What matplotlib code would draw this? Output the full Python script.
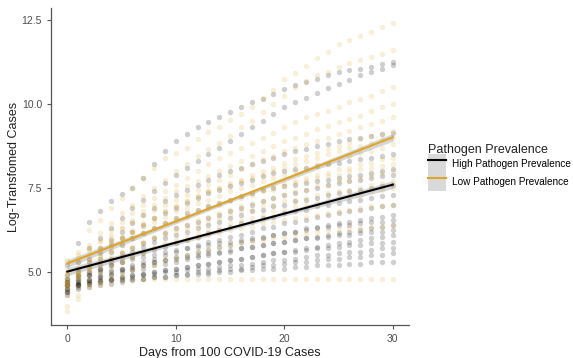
import numpy as np
import matplotlib
matplotlib.use("Agg")
import matplotlib.pyplot as plt
from matplotlib.lines import Line2D
from matplotlib.patches import Patch

plt.rcParams['font.family'] = ['Liberation Sans', 'DejaVu Sans']

# days since the 100th case
days = list(range(31))

# log-transformed cases per country, high pathogen prevalence group
high_a = [5.2, 5.86, 6.5, 6.82, 7.1, 7.32, 7.5, 7.8, 8.2, 8.6, 8.9, 9.1, 9.3, 9.45, 9.6, 9.75, 9.9, 10.05, 10.15, 10.3, 10.45, 10.55, 10.65, 10.75, 10.85, 10.95, 11.0, 11.05, 11.1, 11.2, 11.25]
high_b = [4.9, 5.3, 5.7, 6.0, 6.3, 6.6, 6.9, 7.15, 7.4, 7.65, 7.9, 8.1, 8.3, 8.5, 8.7, 8.9, 9.1, 9.3, 9.5, 9.7, 9.9, 10.06, 10.18, 10.32, 10.47, 10.6, 10.72, 10.85, 10.95, 11.05, 11.16]
high_c = [4.8, 5.1, 5.4, 5.7, 5.95, 6.2, 6.45, 6.7, 6.9, 7.1, 7.3, 7.45, 7.6, 7.75, 7.9, 8.0, 8.1, 8.2, 8.3, 8.4, 8.5, 8.6, 8.65, 8.75, 8.8, 8.9, 8.95, 9.0, 9.05, 9.1, 9.15]
high_d = [4.7, 5.0, 5.3, 5.55, 5.8, 6.0, 6.2, 6.4, 6.6, 6.75, 6.9, 7.05, 7.2, 7.35, 7.45, 7.55, 7.65, 7.75, 7.85, 7.95, 8.0, 8.05, 8.1, 8.15, 8.2, 8.25, 8.3, 8.35, 8.4, 8.45, 8.5]
high_e = [4.6, 4.9, 5.15, 5.4, 5.6, 5.8, 6.0, 6.15, 6.3, 6.45, 6.6, 6.75, 6.85, 6.95, 7.05, 7.15, 7.25, 7.35, 7.45, 7.5, 7.55, 7.6, 7.65, 7.7, 7.75, 7.8, 7.85, 7.9, 7.95, 8.0, 8.05]
high_f = [4.7, 4.85, 5.0, 5.2, 5.4, 5.55, 5.7, 5.85, 6.0, 6.15, 6.3, 6.4, 6.5, 6.6, 6.7, 6.8, 6.9, 7.0, 7.1, 7.2, 7.3, 7.35, 7.45, 7.5, 7.6, 7.65, 7.7, 7.75, 7.8, 7.85, 7.9]
high_g = [4.5, 4.7, 4.9, 5.1, 5.3, 5.45, 5.6, 5.75, 5.9, 6.0, 6.1, 6.2, 6.3, 6.4, 6.5, 6.6, 6.7, 6.8, 6.85, 6.95, 7.0, 7.1, 7.15, 7.2, 7.3, 7.35, 7.4, 7.45, 7.5, 7.55, 7.6]
high_h = [4.6, 4.75, 4.9, 5.05, 5.2, 5.3, 5.45, 5.55, 5.65, 5.75, 5.85, 5.95, 6.05, 6.15, 6.25, 6.35, 6.45, 6.5, 6.6, 6.65, 6.75, 6.8, 6.85, 6.95, 7.0, 7.05, 7.1, 7.15, 7.2, 7.25, 7.3]
high_i = [4.4, 4.6, 4.75, 4.9, 5.0, 5.1, 5.2, 5.3, 5.4, 5.5, 5.6, 5.7, 5.8, 5.9, 5.95, 6.05, 6.1, 6.2, 6.3, 6.35, 6.45, 6.5, 6.55, 6.65, 6.7, 6.75, 6.8, 6.85, 6.9, 6.95, 7.0]
high_j = [4.5, 4.65, 4.75, 4.85, 4.95, 5.05, 5.1, 5.2, 5.3, 5.35, 5.45, 5.5, 5.6, 5.65, 5.75, 5.8, 5.9, 5.95, 6.0, 6.1, 6.15, 6.2, 6.3, 6.35, 6.4, 6.45, 6.5, 6.55, 6.6, 6.65, 6.7]
high_k = [4.6, 4.7, 4.75, 4.85, 4.9, 5.0, 5.05, 5.1, 5.2, 5.25, 5.3, 5.4, 5.45, 5.5, 5.55, 5.6, 5.7, 5.75, 5.8, 5.85, 5.9, 5.95, 6.0, 6.05, 6.1, 6.15, 6.2, 6.25, 6.3, 6.35, 6.4]
high_l = [4.4, 4.6, 4.7, 4.75, 4.8, 4.85, 4.9, 4.95, 5.0, 5.05, 5.1, 5.15, 5.2, 5.25, 5.3, 5.35, 5.4, 5.45, 5.5, 5.55, 5.6, 5.65, 5.7, 5.75, 5.8, 5.85, 5.9, 5.95, 6.0, 6.05, 6.1]
high_m = [4.3, 4.55, 4.65, 4.7, 4.75, 4.8, 4.85, 4.9, 4.95, 5.0, 5.0, 5.05, 5.1, 5.1, 5.15, 5.2, 5.2, 5.25, 5.3, 5.35, 5.35, 5.4, 5.45, 5.5, 5.5, 5.55, 5.6, 5.6, 5.65, 5.7, 5.7]
high_n = [4.5, 4.6, 4.65, 4.7, 4.75, 4.75, 4.8, 4.8, 4.85, 4.85, 4.9, 4.9, 4.95, 4.95, 5.0, 5.0, 5.05, 5.05, 5.1, 5.1, 5.1, 5.15, 5.15, 5.2, 5.2, 5.2, 5.25, 5.25, 5.3, 5.3, 5.3]
high_o = [4.6, 4.65, 4.7, 4.75, 4.8, 4.85, 4.9, 4.95, 5.0, 5.05, 5.1, 5.15, 5.2, 5.25, 5.3, 5.35, 5.4, 5.45, 5.5, 5.55, 5.6, 5.6, 5.65, 5.7, 5.7, 5.75, 5.8, 5.8, 5.85, 5.85, 5.9]
high_p = [4.7, 4.8, 4.9, 5.0, 5.05, 5.1, 5.15, 5.2, 5.3, 5.35, 5.4, 5.45, 5.5, 5.55, 5.6, 5.65, 5.7, 5.75, 5.8, 5.85, 5.9, 5.95, 6.0, 6.0, 6.05, 6.1, 6.1, 6.15, 6.2, 6.2, 6.25]
high_q = [4.8, 4.9, 5.0, 5.1, 5.2, 5.3, 5.4, 5.45, 5.5, 5.6, 5.65, 5.7, 5.75, 5.8, 5.85, 5.9, 5.95, 6.0, 6.05, 6.1, 6.15, 6.2, 6.25, 6.3, 6.35, 6.4, 6.4, 6.45, 6.5, 6.5, 6.55]
high_r = [4.4, 4.5, 4.55, 4.6, 4.65, 4.7, 4.75, 4.8, 4.85, 4.85, 4.9, 4.95, 5.0, 5.0, 5.05, 5.1, 5.1, 5.15, 5.2, 5.2, 5.25, 5.3, 5.3, 5.35, 5.4, 5.4, 5.45, 5.45, 5.5, 5.5, 5.55]

# low pathogen prevalence group
low_a = [5.3, 5.6, 6.25, 6.55, 6.9, 7.2, 7.5, 7.8, 8.1, 8.39, 8.55, 8.69, 8.96, 9.17, 9.32, 9.52, 9.7, 9.9, 10.18, 10.42, 10.74, 10.92, 11.13, 11.37, 11.55, 11.79, 11.9, 12.02, 12.14, 12.29, 12.41]
low_b = [5.0, 5.4, 5.8, 6.15, 6.45, 6.75, 7.0, 7.25, 7.5, 7.75, 8.0, 8.2, 8.45, 8.65, 8.85, 9.05, 9.3, 9.5, 9.75, 10.0, 10.25, 10.5, 10.68, 10.85, 10.95, 11.1, 11.22, 11.3, 11.4, 11.5, 11.6]
low_c = [4.9, 5.3, 5.65, 5.95, 6.25, 6.5, 6.75, 7.0, 7.2, 7.4, 7.6, 7.8, 8.0, 8.2, 8.4, 8.55, 8.7, 8.85, 9.0, 9.15, 9.3, 9.45, 9.6, 9.7, 9.8, 9.9, 10.05, 10.15, 10.25, 10.4, 10.5]
low_d = [4.6, 5.0, 5.35, 5.7, 6.0, 6.3, 6.55, 6.8, 7.0, 7.2, 7.4, 7.55, 7.7, 7.85, 8.0, 8.15, 8.3, 8.45, 8.6, 8.75, 8.9, 9.0, 9.1, 9.25, 9.35, 9.45, 9.55, 9.65, 9.8, 9.9, 10.0]
low_e = [5.35, 5.5, 5.7, 5.9, 6.1, 6.3, 6.5, 6.7, 6.85, 7.0, 7.15, 7.3, 7.45, 7.6, 7.75, 7.9, 8.05, 8.2, 8.35, 8.45, 8.6, 8.7, 8.8, 8.9, 9.0, 9.1, 9.2, 9.3, 9.4, 9.5, 9.6]
low_f = [4.8, 5.1, 5.4, 5.6, 5.85, 6.05, 6.25, 6.45, 6.6, 6.8, 6.95, 7.1, 7.25, 7.4, 7.5, 7.65, 7.75, 7.9, 8.0, 8.1, 8.25, 8.35, 8.45, 8.55, 8.65, 8.75, 8.85, 8.95, 9.05, 9.1, 9.2]
low_g = [5.1, 5.3, 5.5, 5.7, 5.9, 6.05, 6.2, 6.35, 6.5, 6.65, 6.8, 6.9, 7.05, 7.15, 7.25, 7.4, 7.5, 7.6, 7.7, 7.8, 7.9, 8.0, 8.1, 8.2, 8.25, 8.35, 8.45, 8.55, 8.6, 8.7, 8.8]
low_h = [4.6, 4.9, 5.15, 5.4, 5.6, 5.8, 6.0, 6.15, 6.3, 6.45, 6.6, 6.7, 6.8, 6.95, 7.05, 7.15, 7.25, 7.35, 7.45, 7.55, 7.65, 7.7, 7.8, 7.9, 7.95, 8.05, 8.1, 8.2, 8.25, 8.35, 8.4]
low_i = [4.7, 4.9, 5.1, 5.3, 5.45, 5.6, 5.75, 5.9, 6.05, 6.2, 6.3, 6.4, 6.55, 6.65, 6.75, 6.85, 6.95, 7.05, 7.1, 7.2, 7.3, 7.4, 7.45, 7.55, 7.6, 7.7, 7.75, 7.8, 7.9, 7.95, 8.0]
low_j = [4.3, 4.55, 4.8, 5.0, 5.15, 5.3, 5.45, 5.6, 5.75, 5.85, 5.95, 6.05, 6.15, 6.25, 6.35, 6.45, 6.55, 6.6, 6.7, 6.8, 6.85, 6.95, 7.0, 7.05, 7.15, 7.2, 7.25, 7.3, 7.4, 7.45, 7.5]
low_k = [4.9, 5.0, 5.1, 5.2, 5.3, 5.4, 5.5, 5.6, 5.7, 5.8, 5.85, 5.95, 6.0, 6.1, 6.15, 6.25, 6.3, 6.35, 6.45, 6.5, 6.55, 6.6, 6.65, 6.7, 6.75, 6.8, 6.85, 6.9, 6.95, 6.95, 7.0]
low_l = [4.0, 4.3, 4.55, 4.7, 4.85, 4.95, 5.05, 5.15, 5.25, 5.35, 5.45, 5.5, 5.6, 5.65, 5.75, 5.8, 5.85, 5.9, 5.95, 6.0, 6.05, 6.1, 6.15, 6.2, 6.25, 6.25, 6.3, 6.3, 6.35, 6.35, 6.4]
low_m = [3.85, 4.2, 4.6, 4.65, 4.7, 4.75, 4.75, 4.8, 4.8, 4.8, 4.8, 4.8, 4.8, 4.8, 4.8, 4.8, 4.8, 4.8, 4.8, 4.8, 4.8, 4.8, 4.8, 4.8, 4.8, 4.8, 4.8, 4.8, 4.8, 4.8, 4.8]
low_n = [4.5, 4.85, 5.2, 5.5, 5.75, 6.0, 6.2, 6.4, 6.6, 6.8, 6.95, 7.1, 7.25, 7.4, 7.5, 7.6, 7.7, 7.8, 7.9, 8.0, 8.1, 8.2, 8.3, 8.4, 8.5, 8.6, 8.7, 8.75, 8.85, 8.95, 9.0]
low_o = [4.6, 4.8, 5.0, 5.2, 5.4, 5.55, 5.7, 5.85, 6.0, 6.1, 6.2, 6.3, 6.4, 6.5, 6.6, 6.7, 6.8, 6.85, 6.95, 7.0, 7.1, 7.15, 7.2, 7.3, 7.35, 7.4, 7.45, 7.5, 7.6, 7.65, 7.7]
low_p = [4.7, 5.0, 5.25, 5.45, 5.65, 5.85, 6.0, 6.15, 6.3, 6.45, 6.55, 6.65, 6.8, 6.9, 7.0, 7.1, 7.2, 7.3, 7.4, 7.45, 7.55, 7.65, 7.7, 7.8, 7.85, 7.9, 8.0, 8.05, 8.1, 8.15, 8.2]

high_countries = [high_a, high_b, high_c, high_d, high_e, high_f, high_g, high_h, high_i,
                  high_j, high_k, high_l, high_m, high_n, high_o, high_p, high_q, high_r]
low_countries = [low_a, low_b, low_c, low_d, low_e, low_f, low_g, low_h,
                 low_i, low_j, low_k, low_l, low_m, low_n, low_o, low_p]

group_names = ["High Pathogen Prevalence", "Low Pathogen Prevalence"]
group_colors = ["#000000", "#E0A526"]

# half-width of the confidence ribbon at mid-range
ribbon_half = 0.06


def lm_band(x, y, xs):
    # straight-line fit, ribbon shaped like the standard error of the fit
    n = len(x)
    slope, inter = np.polyfit(x, y, 1)
    sxx = np.sum((x - x.mean()) ** 2)
    shape = np.sqrt(1.0 / n + (xs - x.mean()) ** 2 / sxx)
    half = ribbon_half * shape / shape.min()
    fit = inter + slope * xs
    return fit, fit - half, fit + half


fig = plt.figure(figsize=(5.73, 3.58), dpi=100)
ax = fig.add_axes([0.089, 0.092, 0.625, 0.886])

xs = np.linspace(0, 30, 100)
groups = [high_countries, low_countries]
for countries, col in zip(groups, group_colors):
    x = np.tile(np.array(days, dtype=float), len(countries))
    y = np.concatenate([np.array(c, dtype=float) for c in countries])
    ax.scatter(x, y, s=15, color=col, alpha=0.19, linewidths=0, zorder=2)

for countries, col in zip(groups, group_colors):
    x = np.tile(np.array(days, dtype=float), len(countries))
    y = np.concatenate([np.array(c, dtype=float) for c in countries])
    fit, lo, hi = lm_band(x, y, xs)
    ax.fill_between(xs, lo, hi, color="#999999", alpha=0.4, linewidth=0, zorder=3)
    ax.plot(xs, fit, color=col, lw=1.5, zorder=4)

ax.set_xlim(-1.5, 31.5)
ax.set_ylim(3.42, 12.86)
ax.set_xticks([0, 10, 20, 30])
ax.set_yticks([5.0, 7.5, 10.0, 12.5])
ax.set_yticklabels(["5.0", "7.5", "10.0", "12.5"])
for side in ["top", "right"]:
    ax.spines[side].set_visible(False)
for side in ["left", "bottom"]:
    ax.spines[side].set_color("#555555")
    ax.spines[side].set_linewidth(0.9)
ax.tick_params(colors="#555555", labelcolor="#4d4d4d", labelsize=7.5, length=3, width=0.8)
ax.set_xlabel("Days from 100 COVID-19 Cases", fontsize=9, color="#222222", labelpad=2)
ax.set_ylabel("Log-Transfomed Cases", fontsize=9, color="#222222", labelpad=1.5)

handles = [(Patch(facecolor="#d9d9d9", edgecolor="none"), Line2D([], [], color=c, lw=1.5))
           for c in group_colors]
leg = fig.legend(handles, group_names, loc="upper left", bbox_to_anchor=(0.74, 0.61),
                 frameon=False, fontsize=7.2, title="Pathogen Prevalence", title_fontsize=9,
                 handlelength=1.8, handleheight=2.6, labelspacing=-0.15, handletextpad=0.6,
                 borderaxespad=0)
leg._legend_box.align = "left"
leg.get_title().set_color("#222222")

fig.savefig("out.png", dpi=100)
